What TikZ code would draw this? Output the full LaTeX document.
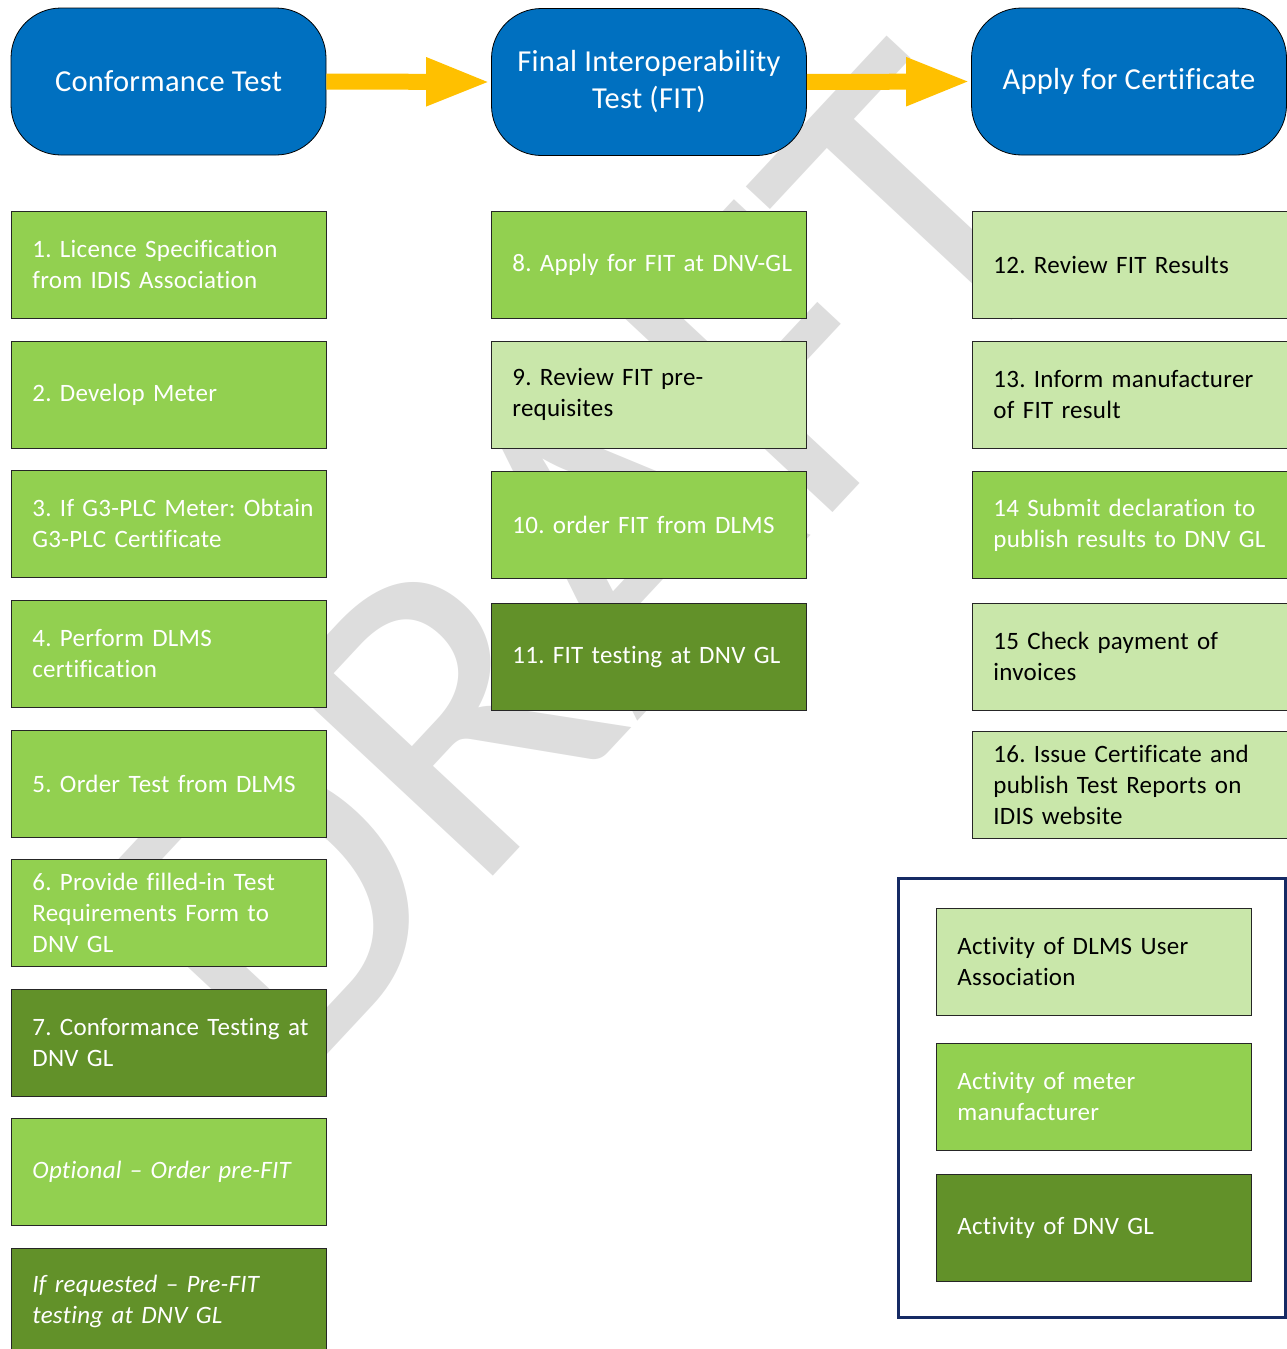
\documentclass[tikz,border=0pt]{standalone}
\usepackage{fontspec}
\setmainfont{Carlito}[Ligatures=CommonOff]
\newfontfamily\boxfont{Carlito}[LetterSpace=1.0,Ligatures=CommonOff]
\newfontfamily\hdrfont{Carlito}[LetterSpace=1.0,Ligatures=CommonOff]
\usetikzlibrary{arrows.meta}
\newcommand{\bxl}[1]{\mbox{#1}}
\definecolor{hblue}{RGB}{0,112,192}
\definecolor{arrowc}{RGB}{255,192,0}
\definecolor{gmed}{RGB}{146,208,80}
\definecolor{glight}{RGB}{201,231,170}
\definecolor{gdark}{RGB}{98,145,41}
\definecolor{navy}{RGB}{22,42,100}
\definecolor{wmgray}{RGB}{221,221,221}
\tikzset{
  hdr/.style={draw=black, line width=0.8pt, fill=hblue, text=white, rounded corners=50pt,
    minimum width=315pt, minimum height=147pt, align=center, inner sep=0pt,
    font=\hdrfont\fontsize{30.5}{37}\selectfont},
  box/.style={draw=black!85, line width=0.8pt, minimum width=315pt, minimum height=107pt,
    text width=273pt, inner xsep=21pt, inner ysep=0pt, align=left, anchor=north west,
    font=\boxfont\fontsize{25}{31}\selectfont\frenchspacing},
  med/.style={box, fill=gmed, text=white},
  light/.style={box, fill=glight, text=black},
  dark/.style={box, fill=gdark, text=white},
  flow/.style={arrowc, line width=16pt, -{Triangle[length=65pt,width=44pt]}},
  watermark/.style={rotate=47, text=wmgray, inner sep=0pt, anchor=base west,
    font=\fontsize{445}{445}\selectfont},
}
\begin{document}
\begin{tikzpicture}[x=1pt,y=-1pt]
\useasboundingbox (0,0) rectangle (1287,1349);
% watermark
\node[watermark] (wm) at (285,1100) {DRAFT};
% headers
\node[hdr] (h1) at (168.5,81.5) {Conformance Test};
\node[hdr] (h2) at (649,82) {Final Interoperability\\Test (FIT)};
\node[hdr] (h3) at (1129,81.5) {Apply for Certificate};
\draw[flow] (h1.east) -- (h2.west);
\draw[flow] (h2.east) -- (h3.west);
% column 1
\node[med] (b1) at (11,211) {\bxl{1. Licence Specification}\\\bxl{from IDIS Association}};
\node[med] (b2) at (11,341) {\bxl{2. Develop Meter}};
\node[med] (b3) at (11,470) {\bxl{3. If G3-PLC Meter: Obtain}\\\bxl{G3-PLC Certificate}};
\node[med] (b4) at (11,600) {\bxl{4. Perform DLMS}\\\bxl{certification}};
\node[med] (b5) at (11,730) {\bxl{5. Order Test from DLMS}};
\node[med] (b6) at (11,859) {\bxl{6. Provide filled-in Test}\\\bxl{Requirements Form to}\\\bxl{DNV GL}};
\node[dark] (b7) at (11,989) {\bxl{7. Conformance Testing at}\\\bxl{DNV GL}};
\node[med] (bo) at (11,1118) {\bxl{\itshape Optional – Order pre-FIT}};
\node[dark] (br) at (11,1248) {\bxl{\itshape If requested – Pre-FIT}\\\bxl{\itshape testing at DNV GL}};
% column 2
\node[med] (b8) at (491,211) {\bxl{8. Apply for FIT at DNV-GL}};
\node[light] (b9) at (491,341) {\bxl{9. Review FIT pre-}\\\bxl{requisites}};
\node[med] (b10) at (491,471) {\bxl{10. order FIT from DLMS}};
\node[dark] (b11) at (491,603) {\bxl{11. FIT testing at DNV GL}};
% column 3
\node[light] (b12) at (972,211) {\bxl{12. Review FIT Results}};
\node[light] (b13) at (972,341) {\bxl{13. Inform manufacturer}\\\bxl{of FIT result}};
\node[med] (b14) at (972,471) {\bxl{14 Submit declaration to}\\\bxl{publish results to DNV GL}};
\node[light] (b15) at (972,603) {\bxl{15 Check payment of}\\\bxl{invoices}};
\node[light] (b16) at (972,731) {\bxl{16. Issue Certificate and}\\\bxl{publish Test Reports on}\\\bxl{IDIS website}};
% legend
\draw[navy, line width=3pt] (898,878) rectangle (1285.5,1317);
\node[light] (l1) at (936,908) {\bxl{Activity of DLMS User}\\\bxl{Association}};
\node[med] (l2) at (936,1043) {\bxl{Activity of meter}\\\bxl{manufacturer}};
\node[dark] (l3) at (936,1174) {\bxl{Activity of DNV GL}};
\end{tikzpicture}
\end{document}
